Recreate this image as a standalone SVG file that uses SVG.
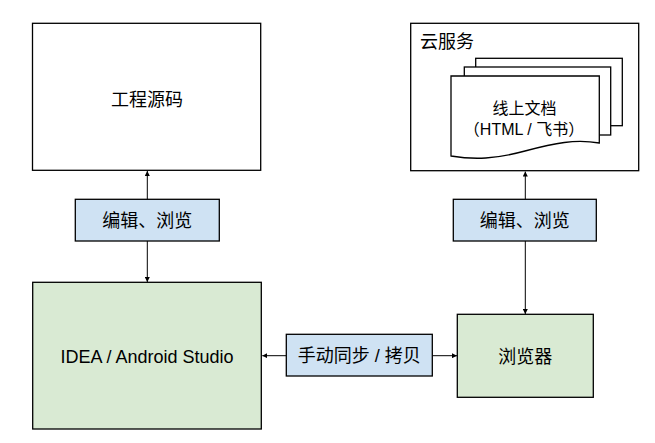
<svg xmlns="http://www.w3.org/2000/svg" width="655" height="443" viewBox="0 0 655 443">
<defs>
<style>
.box{stroke:#000;stroke-width:1.3}
.w{fill:#fff}
.g{fill:#d9ead3}
.b{fill:#cfe2f3}
.t{font-family:"Liberation Sans","Noto Sans CJK SC",sans-serif;font-size:18px;fill:#000;text-anchor:middle}
.s{font-size:16px}
.c{stroke:#000;stroke-width:1;fill:none}
</style>
<marker id="ah" viewBox="0 0 10 10" refX="10" refY="5" markerWidth="5" markerHeight="5" orient="auto" markerUnits="userSpaceOnUse">
<path d="M0,0 L10,5 L0,10 z" fill="#000"/>
</marker>
</defs>
<rect width="655" height="443" fill="#fff"/>
<g id="connectors">
<path class="c" d="M147.3,199.3 V171" marker-end="url(#ah)"/>
<path class="c" d="M147.3,241 V282" marker-end="url(#ah)"/>
<path class="c" d="M525.3,199.3 V171.5" marker-end="url(#ah)"/>
<path class="c" d="M525.3,241 V314" marker-end="url(#ah)"/>
<path class="c" d="M286.5,355.7 H262.3" marker-end="url(#ah)"/>
<path class="c" d="M432.3,355.7 H457" marker-end="url(#ah)"/>
</g>
<g id="source">
<rect class="box w" x="32.5" y="23.3" width="228.2" height="147"/>
<text class="t" x="147" y="105.5">工程源码</text>
</g>
<g id="cloud">
<rect class="box w" x="410.7" y="23.3" width="228" height="147.4"/>
<text class="t" x="420" y="48" text-anchor="start" style="text-anchor:start">云服务</text>
</g>
<g id="docs">
<rect class="box w" x="475.7" y="58.3" width="146.6" height="67.4"/>
<rect class="box w" x="464.3" y="67" width="146.4" height="68"/>
<path class="box w" d="M451,76 H599.3 V143 C575,139 555,143 525,151 C495,159 475,160 451,156 Z"/>
<text class="t s" x="524.5" y="113.5">线上文档</text>
<text class="t s" x="524" y="134.5">（HTML / 飞书）</text>
</g>
<g id="label-left">
<rect class="box b" x="75.3" y="199.3" width="144" height="41.7"/>
<text class="t" x="147.3" y="227">编辑、浏览</text>
</g>
<g id="label-right">
<rect class="box b" x="453.3" y="199.3" width="143" height="41.7"/>
<text class="t" x="524.8" y="227">编辑、浏览</text>
</g>
<g id="ide">
<rect class="box g" x="32.7" y="282.3" width="228.6" height="146.7"/>
<text class="t" x="147" y="362.7">IDEA / Android Studio</text>
</g>
<g id="label-sync">
<rect class="box b" x="286.3" y="334.3" width="146" height="41.7"/>
<text class="t" x="359.3" y="362">手动同步 / 拷贝</text>
</g>
<g id="browser">
<rect class="box g" x="457.3" y="314.3" width="136" height="83"/>
<text class="t" x="525.3" y="362.5">浏览器</text>
</g>
</svg>
